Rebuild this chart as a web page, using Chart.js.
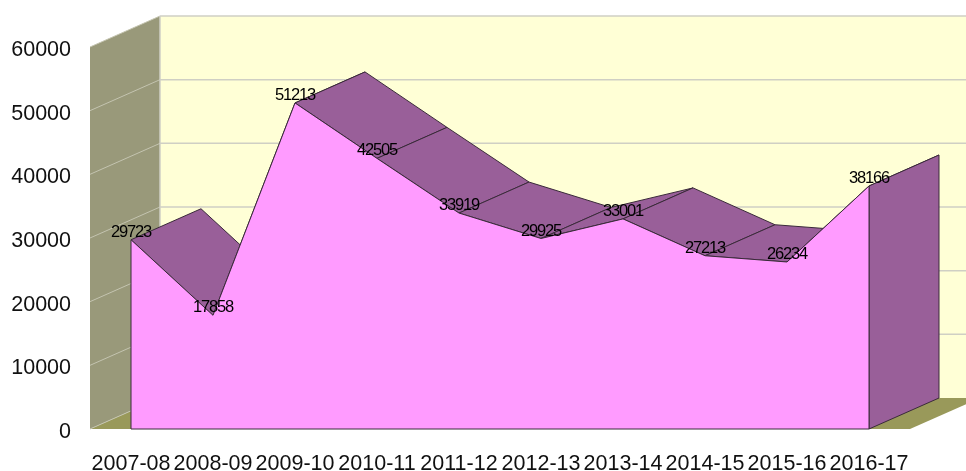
<!DOCTYPE html>
<html><head><meta charset="utf-8">
<style>html,body{margin:0;padding:0;background:#fff}canvas{display:block}</style>
<script src="https://cdn.jsdelivr.net/npm/chart.js@4/dist/chart.umd.js"></script>
</head><body><canvas id="c" width="966" height="471"></canvas>
<script>
const categories = ['2007-08','2008-09','2009-10','2010-11','2011-12','2012-13','2013-14','2014-15','2015-16','2016-17'];
const values = [29723,17858,51213,42505,33919,29925,33001,27213,26234,38166];
const yMin = 0, yMax = 60000, yStep = 10000;

const depthX = 70, depthY = -31;
const FRONT='#FF9BFF', TOP='#995F99', SIDE='#99997A', FLOOR='#99995A', BACK='#FFFFD6', GRID='#CFCFC4', SIDEGRID='#C4C4B0', EDGE='#3A2A3A';

function poly(ctx, pts, fill, stroke, lw){
  ctx.beginPath();
  pts.forEach((p,i)=> i? ctx.lineTo(p[0],p[1]) : ctx.moveTo(p[0],p[1]));
  ctx.closePath();
  if(fill){ctx.fillStyle=fill;ctx.fill();}
  if(stroke){ctx.strokeStyle=stroke;ctx.lineWidth=lw||1;ctx.stroke();}
}
function seg(ctx,a,b,color,lw){
  ctx.beginPath();ctx.moveTo(a[0],a[1]);ctx.lineTo(b[0],b[1]);ctx.strokeStyle=color;ctx.lineWidth=lw;ctx.stroke();
}
const depth3d = {
  id:'depth3d',
  beforeDatasetsDraw(chart){
    const {ctx,scales:{x,y}} = chart;
    const L=x.left,R=x.right,T=y.getPixelForValue(yMax),B=y.getPixelForValue(yMin);
    ctx.save();
    poly(ctx,[[L+depthX,T+depthY],[R+depthX,T+depthY],[R+depthX,B+depthY],[L+depthX,B+depthY]],BACK);
    poly(ctx,[[L,T],[L+depthX,T+depthY],[L+depthX,B+depthY],[L,B]],SIDE);
    poly(ctx,[[L,B],[L+depthX,B+depthY],[R+depthX,B+depthY],[R,B]],FLOOR);
    y.ticks.forEach(t=>{
      const py=y.getPixelForValue(t.value);
      seg(ctx,[L,py],[L+depthX,py+depthY],SIDEGRID,1);
      if(t.value>0) seg(ctx,[L+depthX,py+depthY],[R+depthX,py+depthY],GRID,1.5);
    });
    seg(ctx,[L+depthX,T+depthY],[L+depthX,B+depthY],GRID,1.5);
    const pts=values.map((v,i)=>[x.getPixelForValue(i),y.getPixelForValue(v)]);
    for(let i=0;i<pts.length-1;i++){
      const a=pts[i],b=pts[i+1];
      poly(ctx,[a,[a[0]+depthX,a[1]+depthY],[b[0]+depthX,b[1]+depthY],b],TOP,EDGE,1);
    }
    const e=pts[pts.length-1];
    poly(ctx,[e,[e[0]+depthX,e[1]+depthY],[e[0]+depthX,B+depthY],[e[0],B]],TOP,EDGE,1);
    ctx.restore();
  },
  afterDatasetsDraw(chart){
    const {ctx,scales:{x,y}} = chart;
    const B=y.getPixelForValue(yMin);
    const n=values.length-1;
    const x0=x.getPixelForValue(0),xn=x.getPixelForValue(n);
    ctx.save();
    ctx.beginPath();
    ctx.moveTo(x0,y.getPixelForValue(values[0]));
    ctx.lineTo(x0,B);ctx.lineTo(xn,B);ctx.lineTo(xn,y.getPixelForValue(values[n]));
    ctx.strokeStyle=EDGE;ctx.lineWidth=1;ctx.stroke();
    ctx.font='16.5px "Liberation Sans", Arial, sans-serif';
    ctx.letterSpacing='-1.2px';
    ctx.fillStyle='#000';ctx.textAlign='center';ctx.textBaseline='middle';
    values.forEach((v,i)=>ctx.fillText(String(v),x.getPixelForValue(i),y.getPixelForValue(v)-7.5));
    ctx.restore();
  }
};
new Chart(document.getElementById('c'),{
  type:'line',
  data:{labels:categories,datasets:[{data:values,fill:'origin',backgroundColor:FRONT,borderColor:EDGE,borderWidth:1,tension:0,pointRadius:0,clip:false}]},
  plugins:[depth3d],
  options:{
    responsive:false,animation:false,
    layout:{padding:{top:47,right:56,left:0,bottom:0}},
    plugins:{legend:{display:false},tooltip:{enabled:false}},
    scales:{
      x:{offset:true,grid:{display:false},border:{display:false},
        afterFit(s){s.height=42;},
        ticks:{autoSkip:false,maxRotation:0,minRotation:0,padding:14,color:'#111',font:{family:'"Liberation Sans", Arial, sans-serif',size:21.5}}},
      y:{min:yMin,max:yMax,grid:{display:false},border:{display:false},
        afterFit(s){s.width=90;},
        ticks:{stepSize:yStep,padding:11,labelOffset:3,color:'#111',font:{family:'"Liberation Sans", Arial, sans-serif',size:21.5},callback:v=>String(v)}}
    }
  }
});
</script></body></html>
